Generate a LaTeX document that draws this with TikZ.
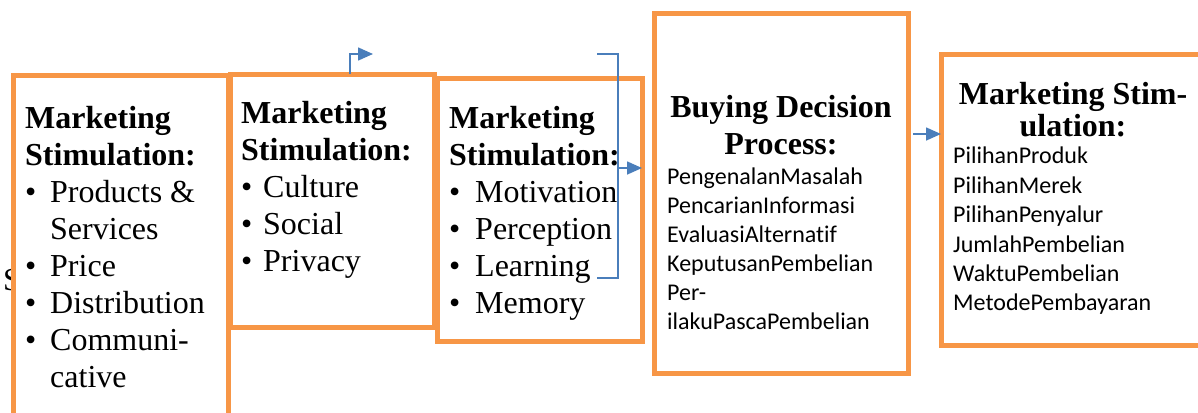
\documentclass[tikz,border=0pt]{standalone}
\usepackage{fontspec}
\setmainfont{Liberation Serif}
\newfontfamily\calfont[Ligatures={NoCommon}]{Carlito}
\usetikzlibrary{arrows.meta}
\definecolor{boxorange}{HTML}{F79646}
\definecolor{arrowblue}{HTML}{4A7EBB}
\tikzset{
 box/.style={draw=boxorange, line width=5pt, fill=white, rectangle, inner sep=0pt, outer sep=0pt},
 ttl/.style={anchor=base west, inner sep=0pt, font=\fontsize{32}{37}\selectfont\bfseries},
 ttlc/.style={anchor=base, inner sep=0pt, font=\fontsize{32}{37}\selectfont\bfseries},
 itm/.style={anchor=base west, inner sep=0pt, font=\fontsize{32}{37}\selectfont},
 cal/.style={anchor=base west, inner sep=0pt, font=\fontsize{24}{29}\selectfont\calfont},
 conn/.style={draw=arrowblue, line width=1.6pt},
 tip/.style={-{Triangle[length=15pt,width=13pt]}},
}
\begin{document}
\begin{tikzpicture}[x=1pt,y=-1pt]
\useasboundingbox (0,0) rectangle (1198,412);
\clip (0,0) rectangle (1198,412);
% stray partial letter at the left edge
\node[itm] (s0) at (3,290) {S};
% boxes
\node[box, minimum width=215pt, minimum height=365pt] (b1) at (120.5,257.5) {};
\node[box, minimum width=204pt, minimum height=253pt] (b2) at (332,200.5) {};
\node[box, minimum width=205pt, minimum height=263pt] (b3) at (539.5,209.5) {};
\node[box, minimum width=254pt, minimum height=359pt] (b4) at (781,193.5) {};
\node[box, minimum width=269pt, minimum height=290pt] (b5) at (1075.5,200) {};
% box 1 text
\node[ttl] (t1a) at (25,128) {Marketing};
\node[ttl] (t1b) at (25,165) {Stimulation:};
\node[itm] (p1a) at (25,202) {\textbullet};
\node[itm] (t1c) at (50,202) {Products \&};
\node[itm] (t1d) at (50,239) {Services};
\node[itm] (p1b) at (25,276) {\textbullet};
\node[itm] (t1e) at (50,276) {Price};
\node[itm] (p1c) at (25,313) {\textbullet};
\node[itm] (t1f) at (50,313) {Distribution};
\node[itm] (p1d) at (25,350) {\textbullet};
\node[itm] (t1g) at (50,350) {Communi-};
\node[itm] (t1h) at (50,387) {cative};
% box 2 text
\node[ttl] (t2a) at (241,123) {Marketing};
\node[ttl] (t2b) at (241,160) {Stimulation:};
\node[itm] (p2a) at (241,197) {\textbullet};
\node[itm] (t2c) at (263,197) {Culture};
\node[itm] (p2b) at (241,234) {\textbullet};
\node[itm] (t2d) at (263,234) {Social};
\node[itm] (p2c) at (241,271) {\textbullet};
\node[itm] (t2e) at (263,271) {Privacy};
% box 3 text
\node[ttl] (t3a) at (449,128) {Marketing};
\node[ttl] (t3b) at (449,165) {Stimulation:};
\node[itm] (p3a) at (449,202) {\textbullet};
\node[itm] (t3c) at (475,202) {Motivation};
\node[itm] (p3b) at (449,239) {\textbullet};
\node[itm] (t3d) at (475,239) {Perception};
\node[itm] (p3c) at (449,276) {\textbullet};
\node[itm] (t3e) at (475,276) {Learning};
\node[itm] (p3d) at (449,313) {\textbullet};
\node[itm] (t3f) at (475,313) {Memory};
% box 4 text
\node[ttlc] (t4a) at (781,117) {Buying Decision};
\node[ttlc] (t4b) at (781,154) {Process:};
\node[cal] (t4c) at (667,184) {PengenalanMasalah};
\node[cal] (t4d) at (667,213) {PencarianInformasi};
\node[cal] (t4e) at (667,242) {EvaluasiAlternatif};
\node[cal] (t4f) at (667,271) {KeputusanPembelian};
\node[cal] (t4g) at (667,300) {Per-};
\node[cal] (t4h) at (667,329) {ilakuPascaPembelian};
% box 5 text
\node[ttlc] (t5a) at (1073,104) {Marketing Stim-};
\node[ttlc] (t5b) at (1073,136) {ulation:};
\node[cal] (t5c) at (953,163) {PilihanProduk};
\node[cal] (t5d) at (953,193) {PilihanMerek};
\node[cal] (t5e) at (953,222) {PilihanPenyalur};
\node[cal] (t5f) at (953,252) {JumlahPembelian};
\node[cal] (t5g) at (953,281) {WaktuPembelian};
\node[cal] (t5h) at (953,310) {MetodePembayaran};
% connectors
\coordinate (a1k) at (350,54);
\coordinate (a1e) at (373,54);
\draw[conn,tip] (a1k |- b2.north) -- (a1k) -- (a1e);
\coordinate (k1) at (597,54);
\coordinate (k2) at (618,54);
\coordinate (k3) at (618,278);
\coordinate (k4) at (597,278);
\draw[conn] (k1) -- (k2) -- (k3) -- (k4);
\coordinate (k5) at (618,168);
\draw[conn,tip] (k5) -- (b3.east |- k5);
\coordinate (a3s) at (913,134);
\draw[conn,tip] (a3s) -- (b5.west |- a3s);
\end{tikzpicture}
\end{document}
